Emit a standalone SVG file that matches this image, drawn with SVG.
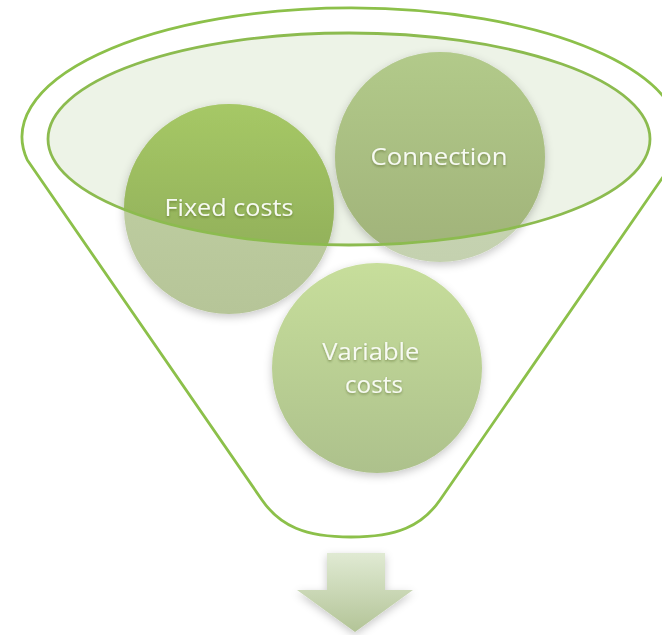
<svg xmlns="http://www.w3.org/2000/svg" width="662" height="635" viewBox="0 0 662 635">
  <style>
    .lbl { font-family: "Open Sans", "Liberation Sans", sans-serif; font-size: 24px; fill: #f7faf2; text-anchor: middle; }
  </style>
  <defs>
    <clipPath id="rim">
      <ellipse cx="349" cy="139" rx="301" ry="106"/>
    </clipPath>
    <filter id="shadow" x="-20%" y="-20%" width="140%" height="150%">
      <feDropShadow dx="0" dy="3" stdDeviation="4" flood-color="#000" flood-opacity="0.22"/>
    </filter>
    <filter id="tshadow" x="-10%" y="-30%" width="120%" height="170%">
      <feDropShadow dx="0" dy="1.5" stdDeviation="1.2" flood-color="#334010" flood-opacity="0.4"/>
    </filter>
    <linearGradient id="gFixIn" x1="0" y1="0" x2="0" y2="1">
      <stop offset="0" stop-color="#a6c866"/>
      <stop offset="1" stop-color="#8aa755"/>
    </linearGradient>
    <linearGradient id="gFixOut" x1="0" y1="0" x2="0" y2="1">
      <stop offset="0" stop-color="#c3d2a6"/>
      <stop offset="1" stop-color="#b6c598"/>
    </linearGradient>
    <linearGradient id="gConIn" x1="0" y1="0" x2="0" y2="1">
      <stop offset="0" stop-color="#b2ca8a"/>
      <stop offset="1" stop-color="#a0b279"/>
    </linearGradient>
    <linearGradient id="gConOut" x1="0" y1="0" x2="0" y2="1">
      <stop offset="0" stop-color="#cbd8b8"/>
      <stop offset="1" stop-color="#c4d1af"/>
    </linearGradient>
    <linearGradient id="gVar" x1="0" y1="0" x2="0" y2="1">
      <stop offset="0" stop-color="#c7de9b"/>
      <stop offset="1" stop-color="#adc18c"/>
    </linearGradient>
    <linearGradient id="gArrow" x1="0" y1="0" x2="0" y2="1">
      <stop offset="0" stop-color="#e0ead3"/>
      <stop offset="1" stop-color="#b3c497"/>
    </linearGradient>
  </defs>

  <g id="funnel">
    <path d="M 27.3,160 A 329 129 0 1 1 674.7,160 L 440,500 C 422,526 397,537 351,537 C 305,537 280,526 262,500 Z" fill="#ffffff" stroke="#8cc04a" stroke-width="2.8" stroke-linejoin="round"/>
    <ellipse id="rim-fill" cx="349" cy="139" rx="301" ry="106" fill="#edf3e7"/>
  </g>

  <g id="node-fixed-costs">
    <g filter="url(#shadow)">
      <circle cx="229" cy="209" r="105" fill="url(#gFixOut)"/>
      <circle cx="229" cy="209" r="105" fill="url(#gFixIn)" clip-path="url(#rim)"/>
    </g>
    <text class="lbl" x="229" y="216" textLength="129" lengthAdjust="spacingAndGlyphs" filter="url(#tshadow)">Fixed costs</text>
  </g>

  <g id="node-connection">
    <g filter="url(#shadow)">
      <circle cx="440" cy="157" r="105" fill="url(#gConOut)"/>
      <circle cx="440" cy="157" r="105" fill="url(#gConIn)" clip-path="url(#rim)"/>
    </g>
    <text class="lbl" x="439" y="165" textLength="137" lengthAdjust="spacingAndGlyphs" filter="url(#tshadow)">Connection</text>
  </g>

  <g id="node-variable-costs">
    <circle cx="377" cy="368" r="105" fill="url(#gVar)" filter="url(#shadow)"/>
    <text class="lbl" filter="url(#tshadow)">
      <tspan x="374" y="360" textLength="97" lengthAdjust="spacingAndGlyphs">Variable</tspan>
      <tspan x="374" y="393" textLength="58" lengthAdjust="spacingAndGlyphs">costs</tspan>
    </text>
  </g>

  <ellipse id="rim-stroke" cx="349" cy="139" rx="301" ry="106" fill="none" stroke="#8cbb4f" stroke-width="2.8"/>

  <g id="connectors">
    <polygon points="327,553 385,553 385,590 413,590 355,632 297,590 327,590" fill="url(#gArrow)" filter="url(#shadow)"/>
  </g>
</svg>
